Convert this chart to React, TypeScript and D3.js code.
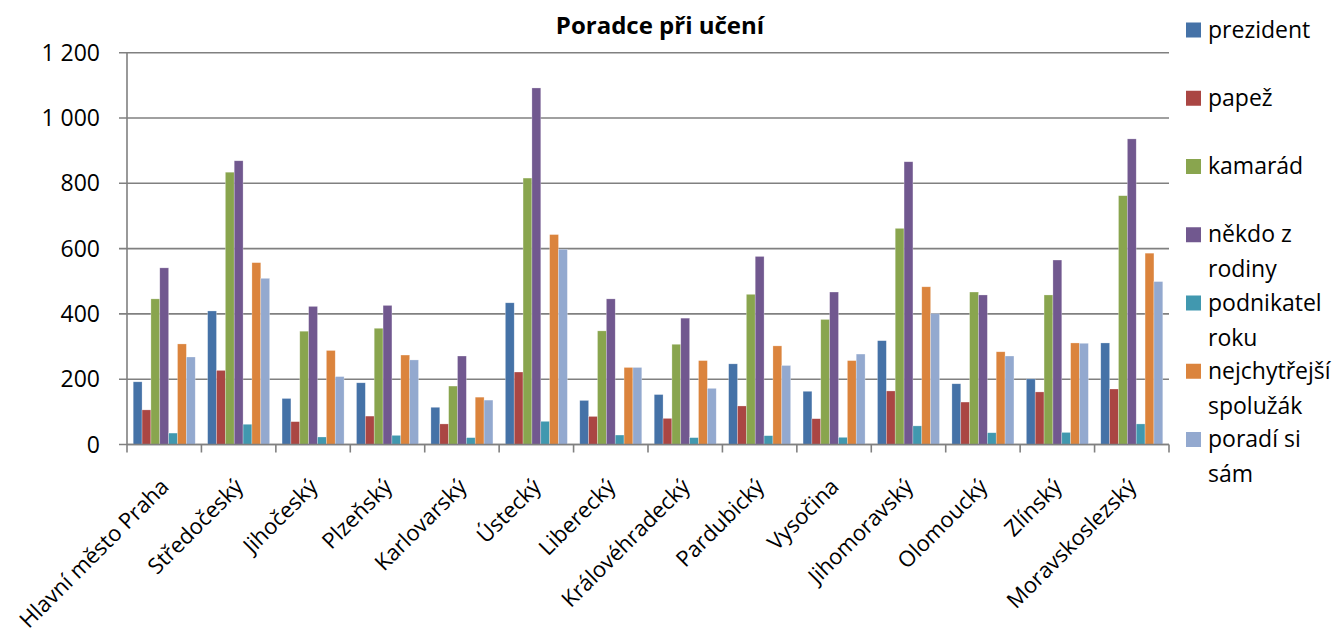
import React from "react";
import * as d3 from "d3";

const regions = [
  "Hlavní město Praha", "Středočeský", "Jihočeský", "Plzeňský", "Karlovarský",
  "Ústecký", "Liberecký", "Královéhradecký", "Pardubický", "Vysočina",
  "Jihomoravský", "Olomoucký", "Zlínský", "Moravskoslezský",
];

const seriesNames = [
  "prezident", "papež", "kamarád", "někdo z rodiny", "podnikatel roku",
  "nejchytřejší spolužák", "poradí si sám",
];

const legendLines = [
  ["prezident"], ["papež"], ["kamarád"], ["někdo z", "rodiny"],
  ["podnikatel", "roku"], ["nejchytřejší", "spolužák"], ["poradí si", "sám"],
];

const prezident = [192, 409, 141, 189, 114, 434, 135, 153, 247, 163, 318, 186, 201, 311];
const papez = [106, 227, 70, 87, 63, 222, 86, 80, 118, 79, 164, 130, 161, 170];
const kamarad = [446, 834, 347, 356, 179, 816, 348, 307, 460, 383, 662, 467, 458, 762];
const nekdoZRodiny = [541, 869, 423, 426, 271, 1092, 446, 387, 576, 467, 866, 458, 565, 936];
const podnikatelRoku = [35, 62, 23, 28, 21, 71, 29, 21, 27, 22, 57, 36, 37, 63];
const nejchytrejsi = [308, 557, 288, 274, 145, 643, 236, 257, 302, 257, 483, 284, 311, 586];
const poradiSiSam = [268, 509, 208, 259, 136, 598, 236, 172, 242, 277, 401, 271, 310, 499];

const seriesValues = [prezident, papez, kamarad, nekdoZRodiny, podnikatelRoku, nejchytrejsi, poradiSiSam];
const colors = ["#4572A7", "#AA4643", "#89A54E", "#71588F", "#4198AF", "#DB843D", "#93A9CF"];

const yTicks = [0, 200, 400, 600, 800, 1000, 1200];
const fmt = (v: number) => (v >= 1000 ? `${Math.floor(v / 1000)} ${String(v % 1000).padStart(3, "0")}` : String(v));

const W = 1335, H = 634;
const left = 127, right = 1169, top = 52.7, bottom = 444.5;
const FONT = "'Open Sans', sans-serif";

export default function App() {
  const x0 = d3.scaleBand<string>().domain(regions).range([left, right]).paddingInner(0).paddingOuter(0);
  const x1 = d3.scaleBand<string>().domain(seriesNames).range([0, x0.bandwidth()]).paddingInner(0).paddingOuter(0.7);
  const y = d3.scaleLinear().domain([0, 1200]).range([bottom, top]);
  const gridColor = "#808080";

  return (
    <svg width={W} height={H} style={{ position: "absolute", left: 0, top: 0, background: "#fff" }} fontFamily={FONT}>
      {/* gridlines */}
      {yTicks.map((t) => (
        <g key={t}>
          <line x1={left - 8} x2={right} y1={y(t)} y2={y(t)} stroke={gridColor} strokeWidth={1.6} />
          <text x={100} y={y(t)} dy="0.35em" textAnchor="end" fontSize={23} fill="#000">{fmt(t)}</text>
        </g>
      ))}
      {/* bars */}
      {regions.map((r, ci) => (
        <g key={r} transform={`translate(${x0(r)},0)`}>
          {seriesNames.map((s, si) => {
            const v = seriesValues[si][ci];
            return (
              <rect key={s} x={x1(s)} y={y(v)} width={x1.bandwidth()} height={bottom - y(v)}
                fill={colors[si]} stroke="rgba(255,255,255,0.45)" strokeWidth={0.6} />
            );
          })}
        </g>
      ))}
      {/* axes */}
      <line x1={left} x2={left} y1={top} y2={bottom} stroke={gridColor} strokeWidth={1.6} />
      <line x1={left} x2={right} y1={bottom} y2={bottom} stroke={gridColor} strokeWidth={1.6} />
      {regions.map((r) => (
        <line key={"t" + r} x1={x0(r)!} x2={x0(r)!} y1={bottom} y2={bottom + 8} stroke={gridColor} strokeWidth={1.6} />
      ))}
      <line x1={right} x2={right} y1={bottom} y2={bottom + 8} stroke={gridColor} strokeWidth={1.6} />
      {/* x labels */}
      {regions.map((r) => {
        const cx = x0(r)! + x0.bandwidth() / 2 + 6;
        const cy = 488;
        return (
          <text key={"l" + r} x={cx} y={cy} textAnchor="end" fontSize={22} fill="#000"
            transform={`rotate(-45, ${cx}, ${cy})`}>{r}</text>
        );
      })}
      {/* title */}
      <text x={660} y={34} textAnchor="middle" fontSize={24} fontWeight="bold" fill="#000">Poradce při učení</text>
      {/* legend */}
      {legendLines.map((lines, i) => {
        const cy = 30 + i * 68.25;
        return (
          <g key={"lg" + i}>
            <rect x={1186} y={cy - 7.5} width={15} height={15} fill={colors[i]} />
            {lines.map((ln, j) => (
              <text key={j} x={1208} y={cy + 7.5 + j * 35} fontSize={23} fill="#000">{ln}</text>
            ))}
          </g>
        );
      })}
    </svg>
  );
}
